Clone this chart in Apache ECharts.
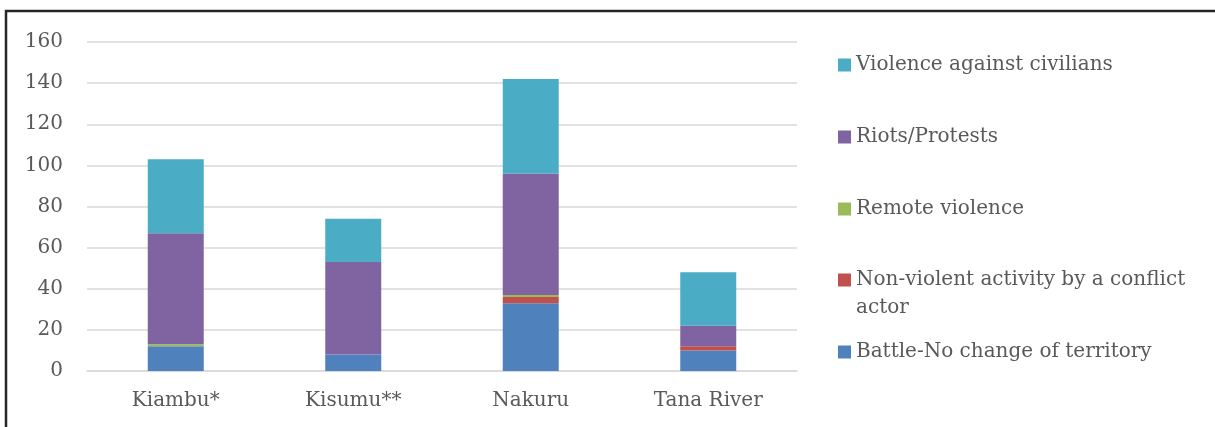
<!DOCTYPE html>
<html>
<head>
<meta charset="utf-8">
<script src="https://cdn.jsdelivr.net/npm/echarts@6/dist/echarts.min.js"></script>
<style>
  html, body { margin: 0; padding: 0; background: #fff; }
  #chart { width: 1215px; height: 427px; }
</style>
</head>
<body>
<div id="chart"></div>
<script>
// counties and event counts
const counties = ['Kiambu*', 'Kisumu**', 'Nakuru', 'Tana River'];

const battle = [12, 8, 33, 10];
const nonViolent = [0, 0, 3, 2];
const remote = [1, 0, 1, 0];
const riots = [54, 45, 59, 10];
const civilians = [36, 21, 46, 26];

const yTicks = { min: 0, max: 160, step: 20 };

const seriesDefs = [
    { name: 'Battle-No change of territory', data: battle, color: '#4f81bd' },
    { name: 'Non-violent activity by a conflict actor', data: nonViolent, color: '#c0504d' },
    { name: 'Remote violence', data: remote, color: '#9bbb59' },
    { name: 'Riots/Protests', data: riots, color: '#8064a2' },
    { name: 'Violence against civilians', data: civilians, color: '#4bacc6' }
];

const font = 'DejaVu Serif';
const grey = '#595959';

// legend entries top to bottom, each placed by hand like Excel does
const legendTops = [54, 126, 198, 238, 341];
const legendOrder = seriesDefs.slice().reverse();

const legends = legendOrder.map((s, i) => {
    const wrap = s.name.indexOf('Non-violent') === 0;
    return {
        data: [s.name],
        left: 838,
        top: legendTops[i],
        padding: 0,
        itemWidth: 13,
        itemHeight: 13,
        icon: 'rect',
        selectedMode: false,
        // blank first line keeps the marker level with the first text line
        formatter: wrap ? ' \nNon-violent activity by a conflict\nactor' : '{name}',
        textStyle: {
            fontFamily: font,
            fontSize: 20,
            color: grey,
            lineHeight: wrap ? 28 : 22
        }
    };
});

const chart = echarts.init(document.getElementById('chart'));
chart.setOption({
    animation: false,
    backgroundColor: '#fff',
    grid: { left: 87, right: 418, top: 42, bottom: 56, containLabel: false },
    legend: legends,
    xAxis: {
        type: 'category',
        data: counties,
        axisTick: { show: false },
        axisLine: { lineStyle: { color: '#d9d9d9', width: 1.5 } },
        axisLabel: { fontFamily: font, fontSize: 20, color: grey, margin: 20 }
    },
    yAxis: {
        type: 'value',
        min: yTicks.min,
        max: yTicks.max,
        interval: yTicks.step,
        axisLine: { show: false },
        axisTick: { show: false },
        splitLine: { lineStyle: { color: '#d9d9d9', width: 1.5 } },
        axisLabel: { fontFamily: font, fontSize: 20, color: grey, margin: 24 }
    },
    graphic: [{
        type: 'rect',
        silent: true,
        shape: { x: 6, y: 11, width: 1400, height: 600 },
        style: { fill: 'none', stroke: '#262626', lineWidth: 2.5 }
    }],
    series: seriesDefs.map(s => ({
        name: s.name,
        type: 'bar',
        stack: 'events',
        barWidth: 56,
        data: s.data,
        itemStyle: { color: s.color }
    }))
});
</script>
</body>
</html>
